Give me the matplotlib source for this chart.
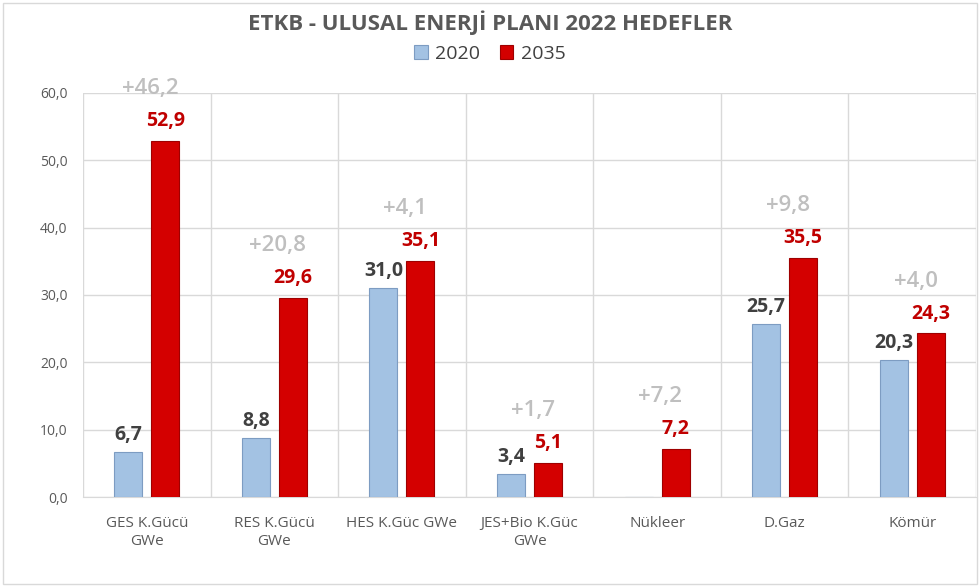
import matplotlib.pyplot as plt
import numpy as np
from matplotlib.patches import Rectangle

plt.rcParams['font.family'] = ['Open Sans', 'DejaVu Sans']

# veriler
kategoriler = ['GES K.Gücü\nGWe', 'RES K.Gücü\nGWe', 'HES K.Güc GWe', 'JES+Bio K.Güc\nGWe',
               'Nükleer', 'D.Gaz', 'Kömür']
y2020 = [6.7, 8.8, 31.0, 3.4, 0.0, 25.7, 20.3]
y2035 = [52.9, 29.6, 35.1, 5.1, 7.2, 35.5, 24.3]
artis = ['+46,2', '+20,8', '+4,1', '+1,7', '+7,2', '+9,8', '+4,0']

fig = plt.figure(figsize=(9.8, 5.87), dpi=100)
ax = fig.add_axes([0.0847, 0.1533, 0.9113, 0.6883])

x = np.arange(len(kategoriler))
w = 0.22
off = 0.145

b1 = ax.bar(x - off, y2020, w, color='#a3c2e3', edgecolor='#7d9cc2', linewidth=0.8, label='2020', zorder=3)
b2 = ax.bar(x + off, y2035, w, color='#d40000', edgecolor='#9e0000', linewidth=0.8, label='2035', zorder=3)

# degerler
for i in range(len(x)):
    if y2020[i] > 0:
        ax.annotate(f'{y2020[i]:.1f}'.replace('.', ','), (x[i] - off, y2020[i]),
                    xytext=(0, 5), textcoords='offset points', ha='center', va='bottom',
                    fontsize=14, fontweight='bold', color='#404040', zorder=5)
    ax.annotate(f'{y2035[i]:.1f}'.replace('.', ','), (x[i] + off, y2035[i]),
                xytext=(0, 7), textcoords='offset points', ha='center', va='bottom',
                fontsize=14, fontweight='bold', color='#c00000', zorder=5)
    ax.annotate(artis[i], (x[i] + off, y2035[i]),
                xytext=(-11, 30), textcoords='offset points', ha='center', va='bottom',
                fontsize=16, fontweight='semibold', color='#bfbfbf', zorder=5)

ax.set_xlim(-0.5, len(x) - 0.5)
ax.set_ylim(0, 60)
ax.set_yticks(range(0, 61, 10))
ax.set_yticklabels([f'{v:.1f}'.replace('.', ',') for v in range(0, 61, 10)])
ax.set_xticks(x)
ax.set_xticklabels(kategoriler)
ax.set_xticks(np.arange(-0.5, len(x), 1), minor=True)
ax.grid(True, axis='y', color='#d9d9d9', linewidth=1, zorder=0)
ax.grid(True, axis='x', which='minor', color='#d9d9d9', linewidth=1, zorder=0)
ax.tick_params(axis='both', which='both', length=0, colors='#595959')
ax.tick_params(axis='x', labelsize=11, pad=14)
ax.tick_params(axis='y', labelsize=10, pad=11)
for s in ax.spines.values():
    s.set_visible(False)
ax.spines['bottom'].set_visible(True)
ax.spines['bottom'].set_color('#d9d9d9')

fig.text(0.5, 0.962, 'ETKB - ULUSAL ENERJİ PLANI 2022 HEDEFLER', ha='center', va='center',
         fontsize=16, fontweight='bold', color='#595959')
fig.legend(handles=[b1, b2], loc='center', bbox_to_anchor=(0.5, 0.908), ncol=2, frameon=False,
           fontsize=14, labelcolor='#404040', handlelength=0.7, handleheight=0.7,
           handletextpad=0.4, columnspacing=1.0)

fig.patches.append(Rectangle((0.003, 0.005), 0.994, 0.99, transform=fig.transFigure,
                             fill=False, edgecolor='#d9d9d9', linewidth=1))

fig.savefig('out.png', dpi=100)
